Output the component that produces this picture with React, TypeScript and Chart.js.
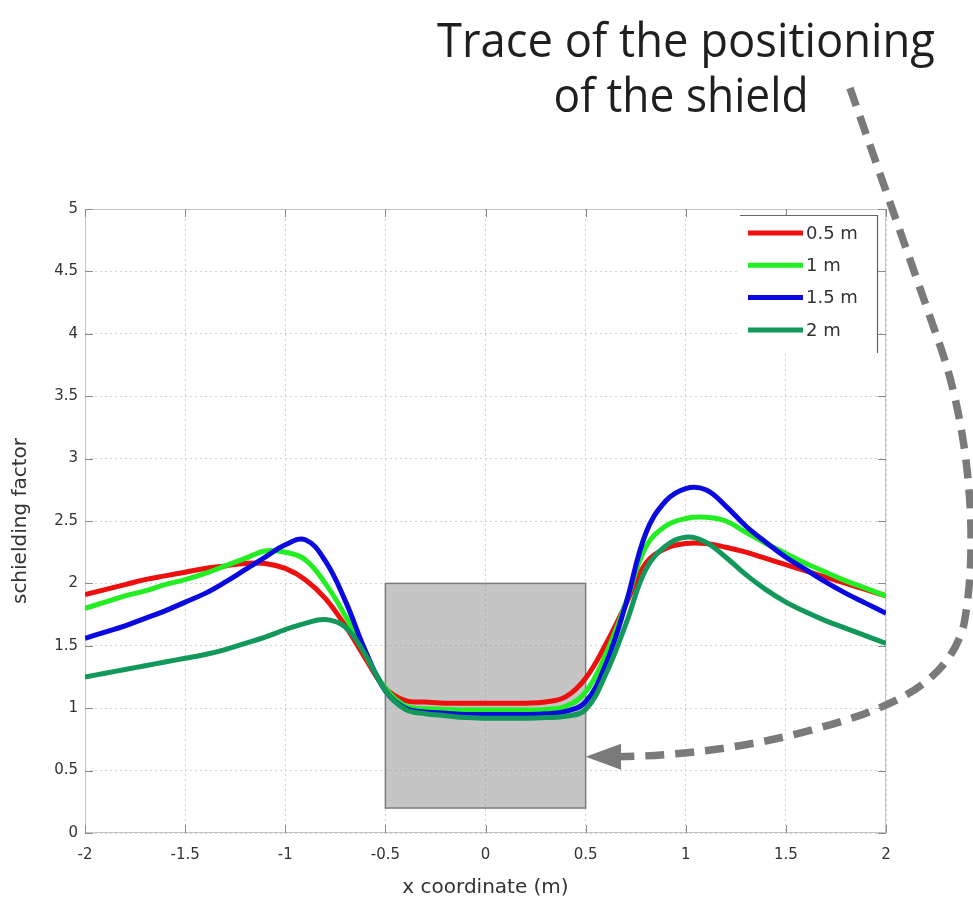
import React, { useEffect, useRef } from "react";
import { Chart, registerables } from "chart.js";

Chart.register(...registerables);

// ---------- data ----------
const xCoords = [
  -2.0, -1.9, -1.8, -1.7, -1.6, -1.5, -1.4, -1.3, -1.2, -1.1, -1.0, -0.9, -0.8, -0.7,
  -0.6, -0.5, -0.4, -0.3, -0.2, -0.1, 0.0, 0.1, 0.2, 0.3, 0.4, 0.5, 0.6, 0.7, 0.8, 0.9,
  1.0, 1.1, 1.2, 1.3, 1.4, 1.5, 1.6, 1.7, 1.8, 1.9, 2.0,
];

const series05m = [
  1.91, 1.95, 1.99, 2.03, 2.06, 2.09, 2.12, 2.14, 2.16, 2.16, 2.12, 2.03, 1.88, 1.66,
  1.40, 1.16, 1.06, 1.05, 1.04, 1.04, 1.04, 1.04, 1.04, 1.05, 1.09, 1.24, 1.51, 1.83,
  2.16, 2.28, 2.32, 2.32, 2.29, 2.25, 2.20, 2.15, 2.10, 2.05, 2.00, 1.95, 1.90,
];

const series1m = [
  1.80, 1.85, 1.90, 1.94, 1.99, 2.03, 2.08, 2.14, 2.20, 2.26, 2.25, 2.19, 2.00, 1.74,
  1.43, 1.16, 1.02, 0.995, 0.99, 0.985, 0.985, 0.985, 0.985, 0.99, 1.015, 1.13, 1.43, 1.84,
  2.29, 2.46, 2.52, 2.53, 2.50, 2.41, 2.32, 2.24, 2.16, 2.09, 2.02, 1.96, 1.90,
];

const series15m = [
  1.56, 1.61, 1.66, 1.72, 1.78, 1.85, 1.92, 2.01, 2.11, 2.21, 2.31, 2.35, 2.18, 1.86,
  1.46, 1.14, 1.00, 0.97, 0.96, 0.95, 0.95, 0.95, 0.95, 0.955, 0.975, 1.05, 1.35, 1.83,
  2.40, 2.66, 2.76, 2.75, 2.62, 2.46, 2.33, 2.21, 2.11, 2.01, 1.92, 1.84, 1.76,
];

const series2m = [
  1.25, 1.28, 1.31, 1.34, 1.37, 1.40, 1.43, 1.47, 1.52, 1.57, 1.63, 1.68, 1.71, 1.65,
  1.43, 1.14, 0.99, 0.955, 0.94, 0.925, 0.92, 0.92, 0.92, 0.925, 0.935, 0.99, 1.27, 1.67,
  2.11, 2.30, 2.37, 2.33, 2.21, 2.07, 1.95, 1.85, 1.77, 1.70, 1.64, 1.58, 1.52,
];

const seriesLabels = ["0.5 m", "1 m", "1.5 m", "2 m"];
const seriesValues = [series05m, series1m, series15m, series2m];
const seriesColors = ["#ee0f0f", "#22ee22", "#0a0ae0", "#12985a"];

const xTicks = [-2, -1.5, -1, -0.5, 0, 0.5, 1, 1.5, 2];
const yTicks = [0, 0.5, 1, 1.5, 2, 2.5, 3, 3.5, 4, 4.5, 5];

// shield trace rectangle (data units)
const shieldX = [-0.5, 0.5];
const shieldY = [0.2, 2.0];

// annotation
const annotationLines = ["Trace of the positioning", "of the shield"];
// dashed arrow path in data units: start, line end, then bezier triples
const arrowStart = [1.82, 5.97];
const arrowLineEnd = [2.269, 3.91];
const arrowCurves = [
  [[2.409, 3.27], [2.469, 2.35], [2.389, 1.67]],
  [[2.304, 1.15], [1.97, 0.97], [1.57, 0.8]],
  [[1.271, 0.68], [0.971, 0.62], [0.657, 0.61]],
];
const arrowTip = [0.5, 0.61];

// ---------- plugins ----------
const shieldPlugin = {
  id: "shieldRect",
  beforeDatasetsDraw(chart: any) {
    const { ctx, scales } = chart;
    const x = scales.x, y = scales.y;
    const x0 = x.getPixelForValue(shieldX[0]);
    const x1 = x.getPixelForValue(shieldX[1]);
    const y0 = y.getPixelForValue(shieldY[1]);
    const y1 = y.getPixelForValue(shieldY[0]);
    ctx.save();
    ctx.fillStyle = "rgba(140,140,140,0.5)";
    ctx.fillRect(x0, y0, x1 - x0, y1 - y0);
    ctx.strokeStyle = "#7c7c7c";
    ctx.lineWidth = 1.5;
    ctx.strokeRect(x0, y0, x1 - x0, y1 - y0);
    ctx.restore();
  },
};

const framePlugin = {
  id: "axesFrame",
  beforeDatasetsDraw(chart: any) {
    const { ctx, chartArea: a, scales } = chart;
    const x = scales.x, y = scales.y;
    ctx.save();
    ctx.strokeStyle = "#c4c4c4";
    ctx.lineWidth = 1;
    ctx.strokeRect(a.left + 0.5, a.top + 0.5, a.right - a.left - 1, a.bottom - a.top - 1);
    ctx.strokeStyle = "#8a8a8a";
    ctx.beginPath();
    const tl = 8;
    xTicks.forEach((v) => {
      const px = Math.round(x.getPixelForValue(v)) + 0.5;
      ctx.moveTo(px, a.bottom);
      ctx.lineTo(px, a.bottom - tl);
      ctx.moveTo(px, a.top);
      ctx.lineTo(px, a.top + tl);
    });
    yTicks.forEach((v) => {
      const py = Math.round(y.getPixelForValue(v)) + 0.5;
      ctx.moveTo(a.left, py);
      ctx.lineTo(a.left + tl, py);
      ctx.moveTo(a.right, py);
      ctx.lineTo(a.right - tl, py);
    });
    ctx.stroke();
    ctx.restore();
  },
};

const legendPlugin = {
  id: "customLegend",
  afterDraw(chart: any) {
    const { ctx, chartArea: a } = chart;
    const right = a.right - 9;
    const top = a.top + 6;
    const width = 137;
    const height = 138;
    const left = right - width;
    ctx.save();
    ctx.fillStyle = "#ffffff";
    ctx.fillRect(left, top, width, height);
    ctx.strokeStyle = "#666666";
    ctx.lineWidth = 1.2;
    ctx.beginPath();
    ctx.moveTo(left, top + 0.5);
    ctx.lineTo(right + 0.5, top + 0.5);
    ctx.lineTo(right + 0.5, top + height);
    ctx.stroke();
    chart.data.datasets.forEach((ds: any, i: number) => {
      const cy = top + 18 + i * 32.3;
      ctx.strokeStyle = ds.borderColor;
      ctx.lineWidth = 5;
      ctx.beginPath();
      ctx.moveTo(left + 8, cy);
      ctx.lineTo(left + 63, cy);
      ctx.stroke();
      ctx.fillStyle = "#333333";
      ctx.font = '18px "DejaVu Sans"';
      ctx.textAlign = "left";
      ctx.textBaseline = "middle";
      ctx.fillText(ds.label, left + 66, cy + 1);
    });
    ctx.restore();
  },
};

const arrowPlugin = {
  id: "shieldArrow",
  afterDraw(chart: any) {
    const { ctx, scales } = chart;
    const x = scales.x, y = scales.y;
    const P = (p: number[]) => [x.getPixelForValue(p[0]), y.getPixelForValue(p[1])];
    ctx.save();
    ctx.strokeStyle = "#7a7a7a";
    ctx.fillStyle = "#7a7a7a";
    ctx.lineWidth = 7.5;
    ctx.setLineDash([19, 11]);
    ctx.beginPath();
    const s = P(arrowStart);
    ctx.moveTo(s[0], s[1]);
    const l = P(arrowLineEnd);
    ctx.lineTo(l[0], l[1]);
    arrowCurves.forEach((c) => {
      const c1 = P(c[0]), c2 = P(c[1]), e = P(c[2]);
      ctx.bezierCurveTo(c1[0], c1[1], c2[0], c2[1], e[0], e[1]);
    });
    ctx.stroke();
    ctx.setLineDash([]);
    const tip = P(arrowTip);
    const last = P(arrowCurves[arrowCurves.length - 1][2]);
    ctx.beginPath();
    ctx.moveTo(tip[0], tip[1]);
    ctx.lineTo(last[0] + 4, last[1] - 13);
    ctx.lineTo(last[0] + 4, last[1] + 13);
    ctx.closePath();
    ctx.fill();
    ctx.restore();
  },
};

const annotationPlugin = {
  id: "annotationText",
  afterDraw(chart: any) {
    const ctx = chart.ctx;
    const layout = [
      { cx: 686, base: 57, w: 498 },
      { cx: 681, base: 112, w: 255 },
    ];
    ctx.save();
    ctx.fillStyle = "#1f1f1f";
    ctx.font = '46px "Open Sans"';
    ctx.textBaseline = "alphabetic";
    ctx.textAlign = "center";
    annotationLines.forEach((t, i) => {
      const L = layout[i];
      const m = ctx.measureText(t).width;
      ctx.save();
      ctx.translate(L.cx, L.base);
      ctx.scale(L.w / m, 1.05);
      ctx.fillText(t, 0, 0);
      ctx.restore();
    });
    ctx.restore();
  },
};

export default function App() {
  const canvasRef = useRef<HTMLCanvasElement | null>(null);

  useEffect(() => {
    if (!canvasRef.current) return;
    const datasets = seriesLabels.map((label, i) => ({
      label,
      data: xCoords.map((xv, k) => ({ x: xv, y: seriesValues[i][k] })),
      borderColor: seriesColors[i],
      backgroundColor: seriesColors[i],
      borderWidth: 5,
      pointRadius: 0,
      fill: false,
      tension: 0.4,
      order: seriesLabels.length - i,
    }));

    const tickFont = { family: '"DejaVu Sans"', size: 15 };
    const titleFont = { family: '"DejaVu Sans"', size: 20 };

    const chart = new Chart(canvasRef.current, {
      type: "line",
      data: { datasets },
      options: {
        responsive: false,
        animation: false,
        events: [],
        layout: { padding: { top: 209, right: 87, left: 0, bottom: 0 } },
        plugins: { legend: { display: false }, tooltip: { enabled: false } },
        scales: {
          x: {
            type: "linear",
            min: -2,
            max: 2,
            afterFit: (s: any) => {
              s.height = 71;
            },
            afterBuildTicks: (s: any) => {
              s.ticks = xTicks.map((v) => ({ value: v }));
            },
            ticks: {
              callback: (v: any) => String(v),
              font: tickFont,
              color: "#333333",
              padding: 13,
              maxRotation: 0,
              autoSkip: false,
            },
            grid: { color: "#d2d2d2", lineWidth: 1, drawTicks: false },
            border: { display: false, dash: [2, 3] },
            title: {
              display: true,
              text: "x coordinate (m)",
              font: titleFont,
              color: "#333333",
              padding: { top: 0, bottom: 4 },
            },
          },
          y: {
            type: "linear",
            min: 0,
            max: 5,
            afterFit: (s: any) => {
              s.width = 85;
            },
            afterBuildTicks: (s: any) => {
              s.ticks = yTicks.map((v) => ({ value: v }));
            },
            ticks: {
              callback: (v: any) => String(v),
              font: tickFont,
              color: "#333333",
              padding: 7,
              autoSkip: false,
            },
            grid: { color: "#d2d2d2", lineWidth: 1, drawTicks: false },
            border: { display: false, dash: [2, 3] },
            title: {
              display: true,
              text: "schielding factor",
              font: titleFont,
              color: "#333333",
              padding: { top: 9, bottom: 0 },
            },
          },
        },
      },
      plugins: [shieldPlugin, framePlugin, legendPlugin, arrowPlugin, annotationPlugin],
    } as any);

    return () => {
      chart.destroy();
    };
  }, []);

  return (
    <div style={{ position: "absolute", left: 0, top: 0, width: 973, height: 904, background: "#ffffff" }}>
      <canvas ref={canvasRef} width={973} height={904} style={{ display: "block" }} />
    </div>
  );
}
